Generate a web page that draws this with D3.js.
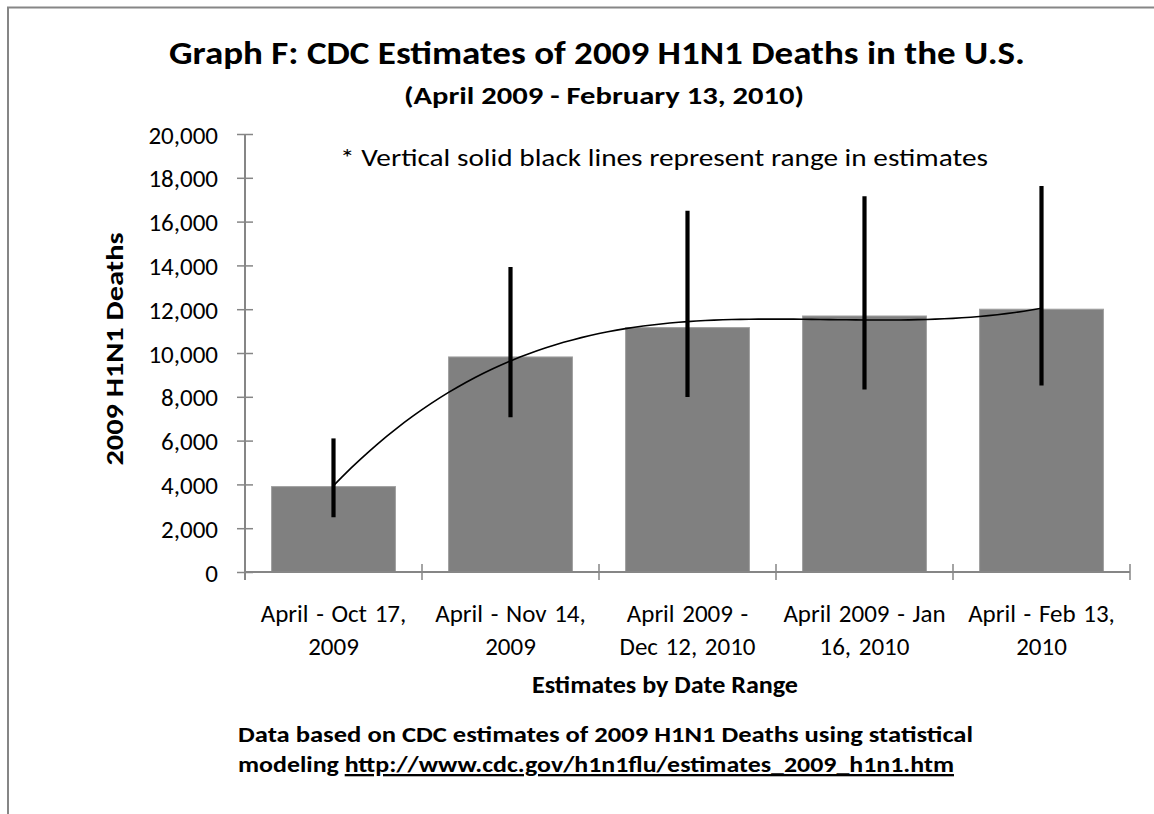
<!DOCTYPE html>
<html>
<head>
<meta charset="utf-8">
<script src="https://cdn.jsdelivr.net/npm/d3@7"></script>
<style>
  html, body { margin: 0; padding: 0; background: #fff; }
  svg { display: block; }
  text { font-family: Carlito, Calibri, Lato, "Open Sans", sans-serif; fill: #000; }
</style>
</head>
<body>
<svg id="chart" width="1154" height="814"></svg>
<script>
// ---- data ----
const categories = [
  ["April - Oct 17,", "2009"],
  ["April - Nov 14,", "2009"],
  ["April 2009 -", "Dec 12, 2010"],
  ["April 2009 - Jan", "16, 2010"],
  ["April - Feb 13,", "2010"]
];
const estimates = [3900, 9820, 11160, 11690, 12000];
const rangeLow  = [2500, 7070, 7990, 8330, 8520];
const rangeHigh = [6100, 13930, 16500, 17160, 17620];
const yTicks = [0, 2000, 4000, 6000, 8000, 10000, 12000, 14000, 16000, 18000, 20000];

const titleText = "Graph F: CDC Estimates of 2009 H1N1 Deaths in the U.S.";
const subtitleText = "(April 2009 - February 13, 2010)";
const noteText = "* Vertical solid black lines represent range in estimates";
const yTitle = "2009 H1N1 Deaths";
const xTitle = "Estimates by Date Range";
const footer1 = "Data based on CDC estimates of 2009 H1N1 Deaths using statistical";
const footer2a = "modeling";
const footer2b = "http://www.cdc.gov/h1n1flu/estimates_2009_h1n1.htm";

// ---- layout ----
const svg = d3.select("#chart");
const plot = {left: 245, right: 1130, top: 134, bottom: 572};

function fit(sel, w) {
  const n = sel.node();
  const len = n.getComputedTextLength();
  if (w && Math.abs(len - w) > 1) sel.attr("textLength", w).attr("lengthAdjust", "spacingAndGlyphs");
  return sel;
}

// outer border (chart area extends past the frame on right/bottom)
svg.append("path")
  .attr("d", "M8,814 V7.5 H1154")
  .attr("fill", "none").attr("stroke", "#868686").attr("stroke-width", 2);

const idx = d3.range(categories.length);
const x = d3.scaleBand().domain(idx).range([plot.left, plot.right])
  .paddingInner(0.3).paddingOuter(0.15);
const y = d3.scaleLinear().domain([0, 20000]).range([plot.bottom, plot.top]);
const xc = i => x(i) + x.bandwidth() / 2;

// bars
svg.append("g").selectAll("rect").data(estimates).join("rect")
  .attr("x", (d, i) => x(i))
  .attr("y", d => y(d))
  .attr("width", x.bandwidth())
  .attr("height", d => y(0) - y(d))
  .attr("fill", "#808080")
  .attr("stroke", "#a0a0a0").attr("stroke-width", 1);

// y axis
const yAxis = svg.append("g").attr("transform", `translate(${plot.left},0)`)
  .call(d3.axisLeft(y).tickValues(yTicks).tickFormat(d3.format(",")).tickSize(8).tickPadding(20));
yAxis.select(".domain").attr("stroke", "#868686").attr("stroke-width", 2).attr("d", `M0,${plot.top}V${plot.bottom + 8}`);
yAxis.selectAll(".tick line").attr("stroke", "#868686").attr("stroke-width", 1.5).attr("x1", 8).attr("x2", -8);
yAxis.selectAll(".tick text").style("font-size", "25px").attr("x", -27).attr("dy", "0.36em");

// x axis
const xAxisG = svg.append("g");
xAxisG.append("line").attr("x1", plot.left).attr("x2", plot.right)
  .attr("y1", y(0)).attr("y2", y(0)).attr("stroke", "#868686").attr("stroke-width", 2);
const bounds = d3.range(categories.length).map(i => x(i) - x.step() * x.paddingInner() / 2 + x.step());
xAxisG.selectAll("line.t").data(bounds).join("line").attr("class", "t")
  .attr("x1", d => d).attr("x2", d => d)
  .attr("y1", y(0) - 8).attr("y2", y(0) + 8)
  .attr("stroke", "#868686").attr("stroke-width", 1.5);

// category labels
categories.forEach((lines, i) => {
  lines.forEach((t, j) => {
    svg.append("text").attr("x", xc(i)).attr("y", 622 + j * 33)
      .attr("text-anchor", "middle").style("font-size", "25px").style("word-spacing", "2px").text(t);
  });
});

// trendline: cubic polynomial least-squares fit of the estimates
function polyfit(xs, ys, order) {
  const m = order + 1;
  const A = Array.from({length: m}, () => new Array(m + 1).fill(0));
  for (let r = 0; r < m; r++) {
    for (let c = 0; c < m; c++) A[r][c] = d3.sum(xs, xv => Math.pow(xv, r + c));
    A[r][m] = d3.sum(xs, (xv, k) => ys[k] * Math.pow(xv, r));
  }
  for (let p = 0; p < m; p++) {
    let best = p;
    for (let r = p + 1; r < m; r++) if (Math.abs(A[r][p]) > Math.abs(A[best][p])) best = r;
    [A[p], A[best]] = [A[best], A[p]];
    for (let r = 0; r < m; r++) {
      if (r === p) continue;
      const f = A[r][p] / A[p][p];
      for (let c = p; c <= m; c++) A[r][c] -= f * A[p][c];
    }
  }
  return A.map((row, r) => row[m] / row[r]);
}
const xsIdx = idx.map(i => i + 1);
const coef = polyfit(xsIdx, estimates, 3);
const xLin = d3.scaleLinear().domain([1, 5]).range([xc(0), xc(4)]);
const samples = d3.range(1, 5.0001, 0.05).map(t => [t, coef.reduce((s, c, k) => s + c * Math.pow(t, k), 0)]);
svg.append("path").datum(samples)
  .attr("d", d3.line().x(d => xLin(d[0])).y(d => y(d[1])))
  .attr("fill", "none").attr("stroke", "#000").attr("stroke-width", 1.6);

// range lines
svg.append("g").selectAll("line").data(idx).join("line")
  .attr("x1", i => xc(i)).attr("x2", i => xc(i))
  .attr("y1", i => y(rangeLow[i])).attr("y2", i => y(rangeHigh[i]))
  .attr("stroke", "#000").attr("stroke-width", 4.2);

// titles
fit(svg.append("text").attr("x", 597).attr("y", 64).attr("text-anchor", "middle")
  .style("font-size", "33px").style("font-weight", "bold").text(titleText), 856);
fit(svg.append("text").attr("x", 604).attr("y", 104).attr("text-anchor", "middle")
  .style("font-size", "25px").style("font-weight", "bold").text(subtitleText), 400);
fit(svg.append("text").attr("x", 340).attr("y", 166)
  .style("font-size", "25px").text(noteText), 648);
fit(svg.append("text").attr("transform", "translate(123,349) rotate(-90)").attr("text-anchor", "middle")
  .style("font-size", "25px").style("font-weight", "bold").text(yTitle), 233);
fit(svg.append("text").attr("x", 532).attr("y", 693)
  .style("font-size", "24px").style("font-weight", "bold").text(xTitle), 266);

// footer
fit(svg.append("text").attr("x", 238).attr("y", 742)
  .style("font-size", "23px").style("font-weight", "bold").text(footer1), 735);
const f2 = svg.append("text").attr("x", 238).attr("y", 772).style("font-size", "23px").style("font-weight", "bold");
f2.append("tspan").text(footer2a + " ");
f2.append("tspan").attr("text-decoration", "underline").style("text-decoration", "underline").text(footer2b);
fit(f2, 716);
</script>
</body>
</html>
